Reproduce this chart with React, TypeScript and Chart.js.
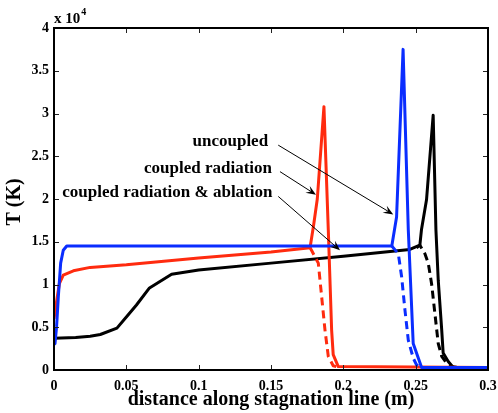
import { useEffect, useRef } from "react";
import { Chart, registerables } from "chart.js";

Chart.register(...registerables);

// ---- data (x in m, T in K) ----
const X_UNCOUPLED = [0, 0.0007, 0.0018, 0.003, 0.0046, 0.0064, 0.0088, 0.012, 0.05, 0.1, 0.15, 0.2, 0.2335, 0.2368, 0.2413, 0.2449, 0.2483, 0.2541, 0.3];
const T_UNCOUPLED = [3000, 3100, 5100, 8600, 12500, 14000, 14500, 14500, 14500, 14500, 14500, 14500, 14500, 17900, 37500, 16400, 3100, 300, 300];

const X_UNCOUPLED_DASH = [0.2335, 0.238, 0.2403, 0.2426, 0.2449, 0.2483, 0.2506, 0.254];
const T_UNCOUPLED_DASH = [14500, 13600, 10900, 7000, 3500, 1400, 600, 300];

const X_RADIATION = [0, 0.0023, 0.0037, 0.0064, 0.0134, 0.025, 0.05, 0.1, 0.15, 0.177, 0.1795, 0.182, 0.1866, 0.1896, 0.1919, 0.193, 0.1965, 0.3];
const T_RADIATION = [6000, 8600, 10100, 11100, 11600, 12000, 12300, 13100, 13800, 14300, 17000, 20000, 30800, 16400, 4700, 1800, 400, 300];

const X_RADIATION_DASH = [0.177, 0.178, 0.1827, 0.185, 0.1873, 0.1896, 0.193, 0.197];
const T_RADIATION_DASH = [14300, 14000, 12500, 8600, 4700, 1600, 500, 300];

const X_ABLATION = [0, 0.015, 0.025, 0.032, 0.0435, 0.05, 0.057, 0.066, 0.0813, 0.1, 0.15, 0.2, 0.246, 0.2529, 0.254, 0.2575, 0.2621, 0.264, 0.2656, 0.268, 0.269, 0.2725, 0.276, 0.3];
const T_ABLATION = [3700, 3800, 3950, 4150, 4900, 6200, 7600, 9600, 11200, 11700, 12500, 13300, 14100, 14600, 16400, 19900, 29800, 16400, 10500, 4700, 2000, 1000, 300, 300];

const X_ABLATION_DASH = [0.2506, 0.2529, 0.2564, 0.2587, 0.261, 0.2633, 0.2656, 0.268, 0.2714, 0.2748, 0.28];
const T_ABLATION_DASH = [14300, 14600, 13600, 12500, 10100, 6600, 3100, 1600, 800, 400, 300];

const X_TICKS = [0, 0.05, 0.1, 0.15, 0.2, 0.25, 0.3];
const Y_TICKS = [0, 5000, 10000, 15000, 20000, 25000, 30000, 35000, 40000];

// annotations: label, text right end (x,T), arrow start (x,T), arrow tip (x,T)
const ANNOT_LABELS = ["uncoupled", "coupled radiation", "coupled radiation & ablation"];
const ANNOT_TEXT_X = [0.148, 0.1507, 0.151];
const ANNOT_TEXT_T = [26700, 23600, 20700];
const ANNOT_FROM_X = [0.155, 0.1562, 0.155];
const ANNOT_FROM_T = [26300, 23200, 20300];
const ANNOT_TO_X = [0.2345, 0.1811, 0.1977];
const ANNOT_TO_T = [18200, 20500, 14000];

const BLUE = "#0a2dff";
const RED = "#ff2b0f";
const BLACK = "#000000";
const SERIF = "'Liberation Serif', 'Times New Roman', serif";

const pts = (xs: number[], ys: number[]) => xs.map((x, i) => ({ x, y: ys[i] }));

const boxPlugin = {
  id: "matlabBox",
  afterDraw(chart: any) {
    const { ctx, chartArea: a, scales } = chart;
    const x = scales.x;
    const y = scales.y;
    ctx.save();
    // inward ticks
    ctx.strokeStyle = "#222";
    ctx.lineWidth = 1;
    ctx.beginPath();
    for (const v of X_TICKS) {
      const px = Math.round(x.getPixelForValue(v)) + 0.5;
      ctx.moveTo(px, a.bottom);
      ctx.lineTo(px, a.bottom - 5);
      ctx.moveTo(px, a.top);
      ctx.lineTo(px, a.top + 5);
    }
    for (const v of Y_TICKS) {
      const py = Math.round(y.getPixelForValue(v)) + 0.5;
      ctx.moveTo(a.left, py);
      ctx.lineTo(a.left + 5, py);
      ctx.moveTo(a.right, py);
      ctx.lineTo(a.right - 5, py);
    }
    ctx.stroke();
    // box
    ctx.strokeStyle = "#000";
    ctx.lineWidth = 2;
    ctx.strokeRect(a.left, a.top, a.right - a.left, a.bottom - a.top);

    // axis titles
    ctx.fillStyle = "#000";
    ctx.font = `bold 20px ${SERIF}`;
    ctx.textAlign = "center";
    ctx.textBaseline = "middle";
    ctx.fillText("distance along stagnation line (m)", (a.left + a.right) / 2, 400);
    ctx.save();
    ctx.translate(15, (a.top + a.bottom) / 2 + 3);
    ctx.rotate(-Math.PI / 2);
    ctx.fillText("T (K)", 0, 0);
    ctx.restore();

    // exponent
    ctx.textAlign = "left";
    ctx.textBaseline = "alphabetic";
    ctx.font = `bold 15px ${SERIF}`;
    ctx.fillText("x 10", a.left, a.top - 5);
    const w = ctx.measureText("x 10").width;
    ctx.font = `bold 10px ${SERIF}`;
    ctx.fillText("4", a.left + w + 1, a.top - 13);

    // annotations
    ctx.font = `bold 17px ${SERIF}`;
    ctx.textAlign = "right";
    ctx.textBaseline = "middle";
    for (let i = 0; i < ANNOT_LABELS.length; i++) {
      ctx.fillText(ANNOT_LABELS[i], x.getPixelForValue(ANNOT_TEXT_X[i]), y.getPixelForValue(ANNOT_TEXT_T[i]));
      const x0 = x.getPixelForValue(ANNOT_FROM_X[i]);
      const y0 = y.getPixelForValue(ANNOT_FROM_T[i]);
      const x1 = x.getPixelForValue(ANNOT_TO_X[i]);
      const y1 = y.getPixelForValue(ANNOT_TO_T[i]);
      const ang = Math.atan2(y1 - y0, x1 - x0);
      const hl = 10;
      const hw = 4;
      ctx.strokeStyle = "#000";
      ctx.lineWidth = 1;
      ctx.beginPath();
      ctx.moveTo(x0, y0);
      ctx.lineTo(x1 - Math.cos(ang) * hl * 0.6, y1 - Math.sin(ang) * hl * 0.6);
      ctx.stroke();
      ctx.beginPath();
      ctx.moveTo(x1, y1);
      ctx.lineTo(x1 - Math.cos(ang) * hl - Math.sin(ang) * hw, y1 - Math.sin(ang) * hl + Math.cos(ang) * hw);
      ctx.lineTo(x1 - Math.cos(ang) * hl * 0.6, y1 - Math.sin(ang) * hl * 0.6);
      ctx.lineTo(x1 - Math.cos(ang) * hl + Math.sin(ang) * hw, y1 - Math.sin(ang) * hl - Math.cos(ang) * hw);
      ctx.closePath();
      ctx.fillStyle = "#000";
      ctx.fill();
    }
    ctx.restore();
  },
};

export default function App() {
  const ref = useRef<HTMLCanvasElement | null>(null);
  useEffect(() => {
    document.body.style.margin = "0";
    const canvas = ref.current;
    if (!canvas) return;
    const line = (data: any, color: string, dashed: boolean) => ({
      data,
      borderColor: color,
      backgroundColor: color,
      borderWidth: 3,
      borderDash: dashed ? [8, 5] : [],
      borderJoinStyle: "round",
      pointRadius: 0,
      tension: 0,
      fill: false,
    });
    const chart = new Chart(canvas, {
      type: "line",
      data: {
        datasets: [
          line(pts(X_UNCOUPLED, T_UNCOUPLED), BLUE, false),
          line(pts(X_UNCOUPLED_DASH, T_UNCOUPLED_DASH), BLUE, true),
          line(pts(X_RADIATION, T_RADIATION), RED, false),
          line(pts(X_RADIATION_DASH, T_RADIATION_DASH), RED, true),
          line(pts(X_ABLATION, T_ABLATION), BLACK, false),
          line(pts(X_ABLATION_DASH, T_ABLATION_DASH), BLACK, true),
        ] as any,
      },
      options: {
        animation: false,
        responsive: false,
        devicePixelRatio: 1,
        layout: { padding: { top: 28, right: 10, left: 0, bottom: 0 } },
        plugins: { legend: { display: false }, tooltip: { enabled: false } },
        scales: {
          x: {
            type: "linear",
            min: 0,
            max: 0.3,
            afterFit: (s: any) => {
              s.height = 43;
              s.paddingLeft = 0;
              s.paddingRight = 0;
            },
            afterBuildTicks: (s: any) => {
              s.ticks = X_TICKS.map((v) => ({ value: v }));
            },
            grid: { display: false, drawTicks: false },
            border: { display: false },
            ticks: {
              padding: 8,
              color: "#000",
              font: { family: SERIF, size: 14, weight: "bold" },
              maxRotation: 0,
              callback: (v: any) => String(Number(Number(v).toFixed(2))),
            },
          },
          y: {
            type: "linear",
            min: 0,
            max: 40000,
            afterFit: (s: any) => {
              s.width = 54;
              s.paddingTop = 0;
              s.paddingBottom = 0;
            },
            afterBuildTicks: (s: any) => {
              s.ticks = Y_TICKS.map((v) => ({ value: v }));
            },
            grid: { display: false, drawTicks: false },
            border: { display: false },
            ticks: {
              padding: 5,
              color: "#000",
              font: { family: SERIF, size: 14, weight: "bold" },
              callback: (v: any) => String(Number(v) / 10000),
            },
          },
        },
      },
      plugins: [boxPlugin],
    } as any);
    return () => chart.destroy();
  }, []);
  return (
    <div style={{ width: 498, height: 413 }}>
      <canvas ref={ref} width={498} height={413} style={{ display: "block" }} />
    </div>
  );
}
